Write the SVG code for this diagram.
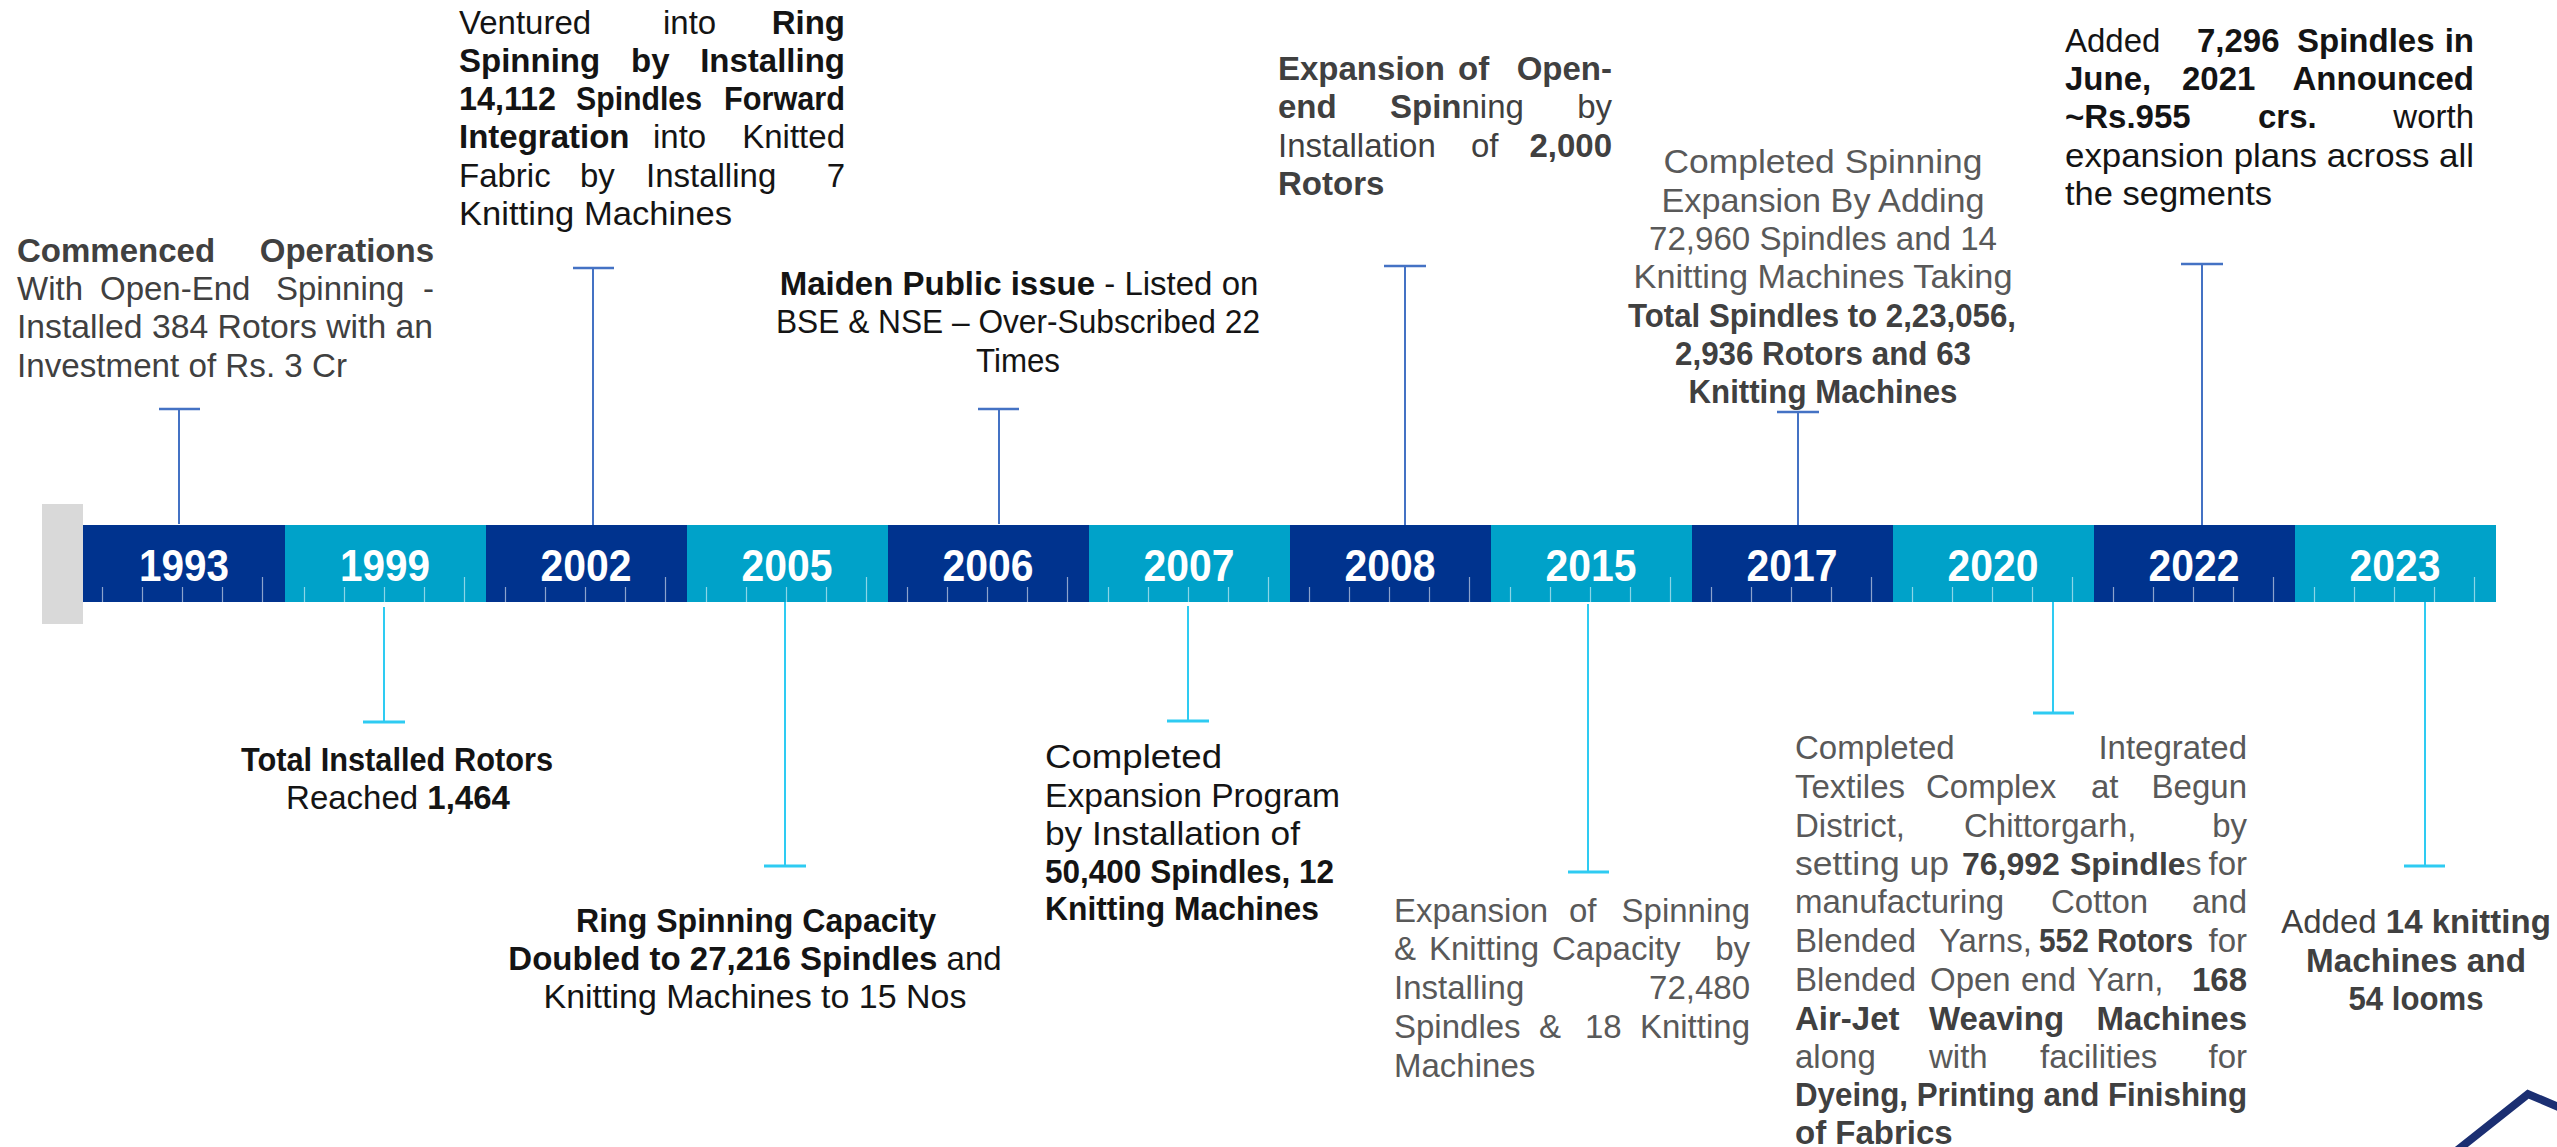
<svg xmlns="http://www.w3.org/2000/svg" width="2557" height="1147" viewBox="0 0 2557 1147">
<style>
text{font-family:"Liberation Sans",Arial,sans-serif;font-size:33px}
.b{font-weight:bold}
.k{fill:#141414}
.g{fill:#404040}
.l{fill:#595959}
.bg{fill:#404040}
.c{text-anchor:middle}
.e{text-anchor:end}
.s32{font-size:32px}
.yr{font-size:44px;font-weight:bold;fill:#fff;text-anchor:middle}
.d{fill:#00338E}
.lb{fill:#00A2C9}
.tk{stroke:#fff;stroke-opacity:.55;stroke-width:1.2;fill:none}
.up{stroke:#4472C4;stroke-width:2;fill:none}
.dn{stroke:#2ECBF2;stroke-width:2;fill:none}
.upc{stroke:#4472C4;stroke-width:2.5;fill:none}
.dnc{stroke:#2ECBF2;stroke-width:3;fill:none}
</style>

<rect x="42" y="504" width="41" height="120" fill="#D9D9D9"/>

<g id="bar">
<g id="y1993"><rect class="d" x="83" y="525" width="202" height="77"/><text class="yr" x="184" y="581" textLength="90" lengthAdjust="spacingAndGlyphs">1993</text></g>
<g id="y1999"><rect class="lb" x="285" y="525" width="201" height="77"/><text class="yr" x="385" y="581" textLength="90" lengthAdjust="spacingAndGlyphs">1999</text></g>
<g id="y2002"><rect class="d" x="486" y="525" width="201" height="77"/><text class="yr" x="586" y="581" textLength="91" lengthAdjust="spacingAndGlyphs">2002</text></g>
<g id="y2005"><rect class="lb" x="687" y="525" width="201" height="77"/><text class="yr" x="787" y="581" textLength="91" lengthAdjust="spacingAndGlyphs">2005</text></g>
<g id="y2006"><rect class="d" x="888" y="525" width="201" height="77"/><text class="yr" x="988" y="581" textLength="91" lengthAdjust="spacingAndGlyphs">2006</text></g>
<g id="y2007"><rect class="lb" x="1089" y="525" width="201" height="77"/><text class="yr" x="1189" y="581" textLength="91" lengthAdjust="spacingAndGlyphs">2007</text></g>
<g id="y2008"><rect class="d" x="1290" y="525" width="201" height="77"/><text class="yr" x="1390" y="581" textLength="91" lengthAdjust="spacingAndGlyphs">2008</text></g>
<g id="y2015"><rect class="lb" x="1491" y="525" width="201" height="77"/><text class="yr" x="1591" y="581" textLength="91" lengthAdjust="spacingAndGlyphs">2015</text></g>
<g id="y2017"><rect class="d" x="1692" y="525" width="201" height="77"/><text class="yr" x="1792" y="581" textLength="91" lengthAdjust="spacingAndGlyphs">2017</text></g>
<g id="y2020"><rect class="lb" x="1893" y="525" width="201" height="77"/><text class="yr" x="1993" y="581" textLength="91" lengthAdjust="spacingAndGlyphs">2020</text></g>
<g id="y2022"><rect class="d" x="2094" y="525" width="201" height="77"/><text class="yr" x="2194" y="581" textLength="91" lengthAdjust="spacingAndGlyphs">2022</text></g>
<g id="y2023"><rect class="lb" x="2295" y="525" width="201" height="77"/><text class="yr" x="2395" y="581" textLength="91" lengthAdjust="spacingAndGlyphs">2023</text></g>
<path class="tk" d="M102.5 587V602M142.5 587V602M182.5 587V602M222.5 587V602M262.5 577V602
M304.5 587V602M344.5 587V602M384.5 587V602M424.5 587V602M464.5 577V602
M505.5 587V602M545.5 587V602M585.5 587V602M625.5 587V602M665.5 577V602
M706.5 587V602M746.5 587V602M786.5 587V602M826.5 587V602M866.5 577V602
M907.5 587V602M947.5 587V602M987.5 587V602M1027.5 587V602M1067.5 577V602
M1108.5 587V602M1148.5 587V602M1188.5 587V602M1228.5 587V602M1268.5 577V602
M1309.5 587V602M1349.5 587V602M1389.5 587V602M1429.5 587V602M1469.5 577V602
M1510.5 587V602M1550.5 587V602M1590.5 587V602M1630.5 587V602M1670.5 577V602
M1711.5 587V602M1751.5 587V602M1791.5 587V602M1831.5 587V602M1871.5 577V602
M1912.5 587V602M1952.5 587V602M1992.5 587V602M2032.5 587V602M2072.5 577V602
M2113.5 587V602M2153.5 587V602M2193.5 587V602M2233.5 587V602M2273.5 577V602
M2314.5 587V602M2354.5 587V602M2394.5 587V602M2434.5 587V602M2474.5 577V602"/>
</g>

<g id="connectors">
<path class="up" d="M179 409V524M593 268V525M999 409V524M1405 266V525M1798 412V525M2202 264V525"/>
<path class="upc" d="M159 409H200M573 268H614M978 409H1019M1384 266H1426M1777 412H1819M2181 264H2223"/>
<path class="dn" d="M384 607V722M785 602V866M1188 606V721M1588 604V872M2053 602V713M2425 602V866"/>
<path class="dnc" d="M363 722H405M764 866H806M1167 721H1209M1568 872H1609M2033 713H2074M2404 866H2445"/>
</g>

<g id="n1993" class="g">
<text class="b" x="17" y="262">Commenced</text><text class="b e" x="434" y="262">Operations</text>
<text y="300"><tspan x="17">With</tspan><tspan x="100">Open-End</tspan><tspan x="276">Spinning</tspan></text><text class="e" x="434" y="300">-</text>
<text x="17" y="338" textLength="416" lengthAdjust="spacingAndGlyphs">Installed 384 Rotors with an</text>
<text x="17" y="377" textLength="330" lengthAdjust="spacingAndGlyphs">Investment of Rs. 3 Cr</text>
</g>

<g id="n2002" class="k">
<text y="34"><tspan x="459">Ventured</tspan><tspan x="663">into</tspan></text><text class="b e" x="845" y="34">Ring</text>
<text y="72" class="b"><tspan x="459">Spinning</tspan><tspan x="631">by</tspan></text><text class="b e" x="845" y="72">Installing</text>
<text class="b" x="459" y="110" textLength="97" lengthAdjust="spacingAndGlyphs">14,112</text>
<text class="b" x="576" y="110" textLength="126" lengthAdjust="spacingAndGlyphs">Spindles</text>
<text class="b" x="724" y="110" textLength="121" lengthAdjust="spacingAndGlyphs">Forward</text>
<text y="148"><tspan class="b" x="459">Integration</tspan><tspan x="653">into</tspan></text><text class="e" x="845" y="148">Knitted</text>
<text y="187"><tspan x="459">Fabric</tspan><tspan x="580">by</tspan><tspan x="646">Installing</tspan></text><text class="e" x="845" y="187">7</text>
<text x="459" y="225" textLength="273" lengthAdjust="spacingAndGlyphs">Knitting Machines</text>
</g>

<g id="n2006" class="k">
<text class="c" x="1019" y="295"><tspan class="b">Maiden Public issue</tspan> - Listed on</text>
<text class="c" x="1018" y="333" textLength="484" lengthAdjust="spacingAndGlyphs">BSE &amp; NSE – Over-Subscribed 22</text>
<text class="c" x="1018" y="372" textLength="84" lengthAdjust="spacingAndGlyphs">Times</text>
</g>

<g id="n2008" class="g">
<text y="80" class="b"><tspan x="1278">Expansion</tspan><tspan x="1458">of</tspan></text><text class="b e" x="1612" y="80">Open-</text>
<text y="118"><tspan class="b" x="1278">end</tspan><tspan class="b" x="1390">Spin</tspan><tspan>ning</tspan></text><text class="e" x="1612" y="118">by</text>
<text y="157"><tspan x="1278">Installation</tspan><tspan x="1471">of</tspan></text><text class="b e" x="1612" y="157">2,000</text>
<text y="195" class="b" x="1278">Rotors</text>
</g>

<g id="n2017">
<text class="c l" x="1823" y="173" textLength="319" lengthAdjust="spacingAndGlyphs">Completed Spinning</text>
<text class="c l" x="1823" y="212" textLength="323" lengthAdjust="spacingAndGlyphs">Expansion By Adding</text>
<text class="c l" x="1823" y="250" textLength="348" lengthAdjust="spacingAndGlyphs">72,960 Spindles and 14</text>
<text class="c l" x="1823" y="288" textLength="379" lengthAdjust="spacingAndGlyphs">Knitting Machines Taking</text>
<text class="c b bg" x="1822" y="327" textLength="388" lengthAdjust="spacingAndGlyphs">Total Spindles to 2,23,056,</text>
<text class="c b bg" x="1823" y="365" textLength="296" lengthAdjust="spacingAndGlyphs">2,936 Rotors and 63</text>
<text class="c b bg" x="1823" y="403" textLength="269" lengthAdjust="spacingAndGlyphs">Knitting Machines</text>
</g>

<g id="n2022" class="k">
<text y="52"><tspan x="2065">Added</tspan><tspan class="b" x="2197">7,296</tspan><tspan class="b" x="2297">Spindles</tspan></text><text class="b e" x="2474" y="52">in</text>
<text y="90" class="b"><tspan x="2065">June,</tspan><tspan x="2182">2021</tspan></text><text class="b e" x="2474" y="90">Announced</text>
<text y="128"><tspan class="b" x="2065">~Rs.955</tspan><tspan class="b" x="2258">crs.</tspan></text><text class="e" x="2474" y="128">worth</text>
<text x="2065" y="167" textLength="409" lengthAdjust="spacingAndGlyphs">expansion plans across all</text>
<text x="2065" y="205" textLength="207" lengthAdjust="spacingAndGlyphs">the segments</text>
</g>

<g id="n1999" class="k">
<text class="c b" x="397" y="771" textLength="312" lengthAdjust="spacingAndGlyphs">Total Installed Rotors</text>
<text class="c" x="398" y="809">Reached <tspan class="b">1,464</tspan></text>
</g>

<g id="n2005" class="k">
<text class="c b" x="756" y="932" textLength="360" lengthAdjust="spacingAndGlyphs">Ring Spinning Capacity</text>
<text class="c" x="755" y="970"><tspan class="b">Doubled to 27,216 Spindles</tspan> and</text>
<text class="c" x="755" y="1008" textLength="423" lengthAdjust="spacingAndGlyphs">Knitting Machines to 15 Nos</text>
</g>

<g id="n2007" class="k">
<text x="1045" y="768" textLength="177" lengthAdjust="spacingAndGlyphs">Completed</text>
<text x="1045" y="807" textLength="295" lengthAdjust="spacingAndGlyphs">Expansion Program</text>
<text x="1045" y="845" textLength="255" lengthAdjust="spacingAndGlyphs">by Installation of</text>
<text class="b" x="1045" y="883" textLength="289" lengthAdjust="spacingAndGlyphs">50,400 Spindles, 12</text>
<text class="b" x="1045" y="920" textLength="274" lengthAdjust="spacingAndGlyphs">Knitting Machines</text>
</g>

<g id="n2015" class="l">
<text y="922"><tspan x="1394">Expansion</tspan><tspan x="1569">of</tspan></text><text class="e" x="1750" y="922">Spinning</text>
<text y="960"><tspan x="1394">&amp;</tspan><tspan x="1429">Knitting</tspan><tspan x="1552">Capacity</tspan></text><text class="e" x="1750" y="960">by</text>
<text y="999" x="1394">Installing</text><text class="e" x="1750" y="999">72,480</text>
<text y="1038"><tspan x="1394">Spindles</tspan><tspan x="1539">&amp;</tspan><tspan x="1585">18</tspan></text><text class="e" x="1750" y="1038">Knitting</text>
<text y="1077" x="1394">Machines</text>
</g>

<g id="n2020" class="l">
<text x="1795" y="759">Completed</text><text class="e" x="2247" y="759">Integrated</text>
<text y="798"><tspan x="1795">Textiles</tspan><tspan x="1926">Complex</tspan><tspan x="2091">at</tspan></text><text class="e" x="2247" y="798">Begun</text>
<text y="837"><tspan x="1795">District,</tspan><tspan x="1964">Chittorgarh,</tspan></text><text class="e" x="2247" y="837">by</text>
<text x="1795" y="875" textLength="154" lengthAdjust="spacingAndGlyphs">setting up</text>
<text class="b bg s32" x="1962" y="875">76,992</text>
<text class="s32" x="2070" y="875"><tspan class="b bg">Spindle</tspan>s</text>
<text class="e" x="2247" y="875">for</text>
<text y="913"><tspan x="1795">manufacturing</tspan><tspan x="2051">Cotton</tspan></text><text class="e" x="2247" y="913">and</text>
<text y="952"><tspan x="1795">Blended</tspan><tspan x="1939">Yarns,</tspan></text>
<text class="b bg" x="2039" y="952" textLength="154" lengthAdjust="spacingAndGlyphs">552 Rotors</text>
<text class="e" x="2247" y="952">for</text>
<text y="991"><tspan x="1795">Blended</tspan><tspan x="1930">Open</tspan><tspan x="2021">end</tspan><tspan x="2087">Yarn,</tspan></text><text class="b bg e" x="2247" y="991">168</text>
<text y="1030" class="b bg"><tspan x="1795">Air-Jet</tspan><tspan x="1929">Weaving</tspan></text><text class="b bg e" x="2247" y="1030">Machines</text>
<text y="1068"><tspan x="1795">along</tspan><tspan x="1929">with</tspan><tspan x="2040">facilities</tspan></text><text class="e" x="2247" y="1068">for</text>
<text class="b bg" x="1795" y="1106" textLength="452" lengthAdjust="spacingAndGlyphs">Dyeing, Printing and Finishing</text>
<text class="b bg" x="1795" y="1144">of Fabrics</text>
</g>

<g id="n2023" class="g">
<text class="c" x="2416" y="933">Added <tspan class="b">14 knitting</tspan></text>
<text class="c b" x="2416" y="972" textLength="220" lengthAdjust="spacingAndGlyphs">Machines and</text>
<text class="c b" x="2416" y="1010" textLength="135" lengthAdjust="spacingAndGlyphs">54 looms</text>
</g>

<polyline points="2445,1160 2528,1094 2570,1112" fill="none" stroke="#1B2F72" stroke-width="8" stroke-linejoin="miter"/>
</svg>
